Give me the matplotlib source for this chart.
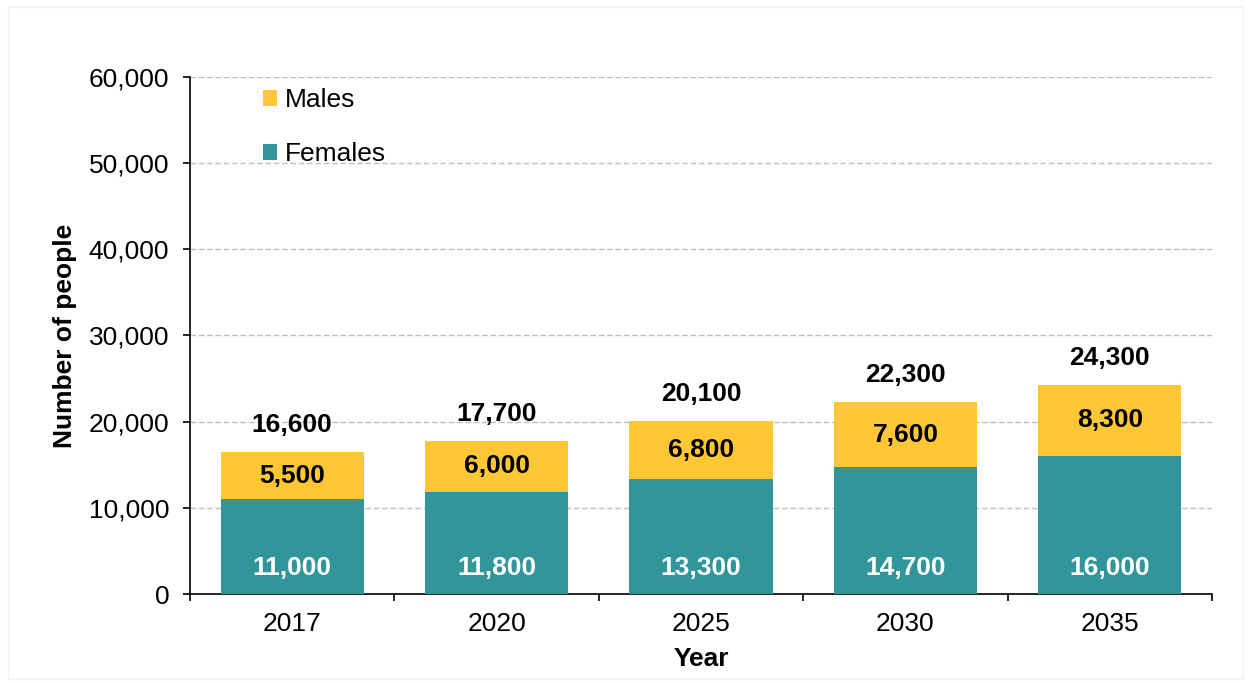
import numpy as np
import matplotlib.pyplot as plt
from matplotlib.ticker import FuncFormatter, FixedLocator
from matplotlib.patches import Rectangle

years = ["2017", "2020", "2025", "2030", "2035"]
females = [11000, 11800, 13300, 14700, 16000]
males = [5500, 6000, 6800, 7600, 8300]
totals = [16600, 17700, 20100, 22300, 24300]

teal = "#31969A"
yellow = "#FFC736"
fs = 19

plt.rcParams["font.family"] = ["Liberation Sans", "DejaVu Sans"]

fig = plt.figure(figsize=(12.5, 6.83), dpi=100)
ax = fig.add_axes([0.152, 0.1303, 0.8176, 0.757])

# faint outer frame
fig.patches.append(Rectangle((0.006, 0.006), 0.988, 0.984, transform=fig.transFigure,
                             fill=False, edgecolor="#F2F2F2", linewidth=1))

x = np.arange(len(years))
w = 0.70
b1 = ax.bar(x, females, w, color=teal, label="Females", zorder=3)
b2 = ax.bar(x, males, w, bottom=females, color=yellow, label="Males", zorder=3)

for i in range(len(years)):
    # female labels sit near the base of each bar
    ax.annotate(f"{females[i]:,}", (x[i], 0), xytext=(0, 19), textcoords="offset points",
                ha="center", va="center", color="white", fontsize=fs,
                fontweight="bold", zorder=4)
    ax.text(x[i], females[i] + males[i] / 2, f"{males[i]:,}", ha="center", va="center",
            color="black", fontsize=fs, fontweight="bold", zorder=4)
    ax.annotate(f"{totals[i]:,}", (x[i], females[i] + males[i]), xytext=(0, 19.5),
                textcoords="offset points", ha="center", va="center",
                fontsize=fs, fontweight="bold")

ax.set_xlim(-0.5, len(years) - 0.5)
ax.set_ylim(0, 60000)
ax.set_yticks(np.arange(0, 60001, 10000))
ax.yaxis.set_major_formatter(FuncFormatter(lambda v, p: f"{int(v):,}"))
ax.grid(axis="y", color="#BFBFBF", linestyle=(0, (4, 2)), linewidth=1, zorder=0)

ax.xaxis.set_major_locator(FixedLocator(np.arange(-0.5, len(years), 1.0)))
ax.xaxis.set_minor_locator(FixedLocator(x))
ax.set_xticklabels([])
ax.set_xticklabels(years, minor=True)
ax.tick_params(axis="x", which="major", length=5, width=1.2, color="black")
ax.tick_params(axis="x", which="minor", length=0, pad=13, labelsize=fs)
ax.tick_params(axis="y", length=5, width=1.2, labelsize=fs, pad=10)

for s in ["top", "right"]:
    ax.spines[s].set_visible(False)
for s in ["left", "bottom"]:
    ax.spines[s].set_linewidth(1.2)

ax.set_xlabel("Year", fontsize=fs, fontweight="bold", labelpad=8)
ax.set_ylabel("Number of people", fontsize=fs, fontweight="bold", labelpad=8)

ax.legend(handles=[b2, b1], labels=["Males", "Females"], loc="upper left",
          bbox_to_anchor=(0.048, 1.024), frameon=False, fontsize=fs,
          handlelength=0.53, handleheight=0.53, handletextpad=0.3, labelspacing=1.14)

fig.savefig("out.png", dpi=100)
